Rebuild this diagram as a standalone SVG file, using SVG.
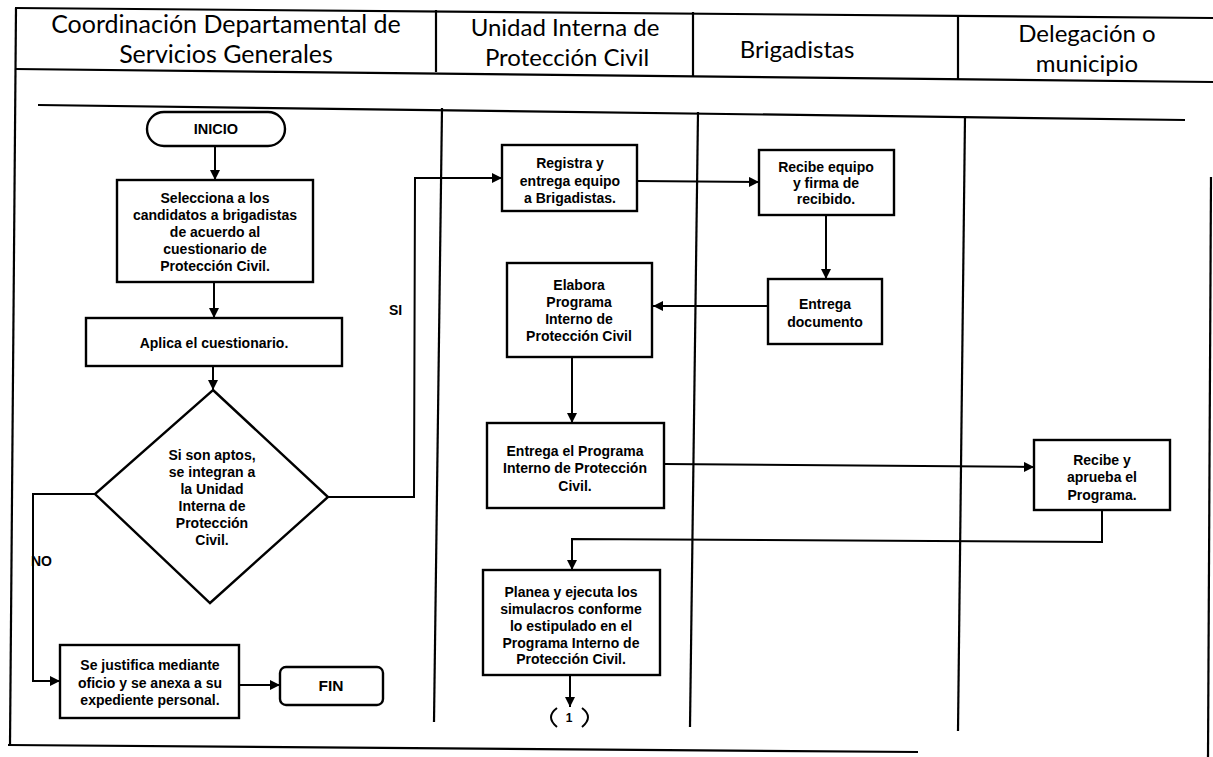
<svg xmlns="http://www.w3.org/2000/svg" width="1213" height="757" viewBox="0 0 1213 757">
<style>
.frame{fill:none;stroke:#000;stroke-width:2.2}
.box{fill:#fff;stroke:#000;stroke-width:2.4}
.conn{fill:none;stroke:#000;stroke-width:2}
.hdr{font-family:Lato,"Open Sans",sans-serif;font-size:24px;fill:#000;text-anchor:middle}
.t{font-family:"Liberation Sans",Arial,sans-serif;font-weight:bold;font-size:14px;fill:#000;text-anchor:middle}
.lbl{font-family:"Liberation Sans",Arial,sans-serif;font-weight:bold;font-size:14px;fill:#000}
</style>
<defs>
<marker id="ah" viewBox="0 0 10 10" refX="10" refY="5" markerWidth="10" markerHeight="10" markerUnits="userSpaceOnUse" orient="auto">
<path d="M0,0 L10,5 L0,10 z" fill="#000"/>
</marker>
</defs>
<rect width="1213" height="757" fill="#fff"/>
<g id="frame">
<line class="frame" x1="15" y1="8" x2="1213" y2="18"/>
<line class="frame" x1="15" y1="69" x2="1213" y2="82"/>
<line class="frame" x1="16" y1="8" x2="10" y2="745"/>
<line class="frame" x1="436" y1="10" x2="436" y2="72"/>
<line class="frame" x1="693" y1="12" x2="693" y2="77"/>
<line class="frame" x1="958" y1="15" x2="958" y2="80"/>
<line class="frame" x1="38" y1="105" x2="1185" y2="120"/>
<line class="frame" x1="442" y1="108" x2="434" y2="722"/>
<line class="frame" x1="698" y1="112" x2="690" y2="727"/>
<line class="frame" x1="965" y1="116" x2="958" y2="731"/>
<line class="frame" x1="1211" y1="177" x2="1208" y2="757"/>
<line class="frame" x1="8" y1="745" x2="918" y2="752"/>
</g>
<g id="headers">
<text class="hdr" x="226" y="33" style="font-size:25px">Coordinación Departamental de</text>
<text class="hdr" x="226" y="63" style="font-size:25px">Servicios Generales</text>
<text class="hdr" x="565" y="36">Unidad Interna de</text>
<text class="hdr" x="567" y="66">Protección Civil</text>
<text class="hdr" x="797" y="58">Brigadistas</text>
<text class="hdr" x="1087" y="42">Delegación o</text>
<text class="hdr" x="1087" y="72">municipio</text>
</g>
<g id="connectors">
<line class="conn" x1="215" y1="146" x2="215" y2="180" marker-end="url(#ah)"/>
<line class="conn" x1="214" y1="282" x2="214" y2="318" marker-end="url(#ah)"/>
<line class="conn" x1="213" y1="366" x2="213" y2="390" marker-end="url(#ah)"/>
<polyline class="conn" points="95,494 33,494 33,681 60,681" marker-end="url(#ah)"/>
<polyline class="conn" points="328,497 414,497 415,178 502,178" marker-end="url(#ah)"/>
<line class="conn" x1="239" y1="685" x2="280" y2="685" marker-end="url(#ah)"/>
<line class="conn" x1="637" y1="181" x2="759" y2="182" marker-end="url(#ah)"/>
<line class="conn" x1="826" y1="215" x2="826" y2="279" marker-end="url(#ah)"/>
<line class="conn" x1="768" y1="306" x2="653" y2="306" marker-end="url(#ah)"/>
<line class="conn" x1="572" y1="357" x2="572" y2="423" marker-end="url(#ah)"/>
<line class="conn" x1="664" y1="464" x2="1034" y2="467" marker-end="url(#ah)"/>
<polyline class="conn" points="1102,510 1102,542 572,539 572,570" marker-end="url(#ah)"/>
<line class="conn" x1="570" y1="675" x2="570" y2="707" marker-end="url(#ah)"/>
<text class="lbl" x="31" y="566">NO</text>
<text class="lbl" x="389" y="315">SI</text>
</g>
<g id="inicio">
<rect class="box" x="147" y="112" width="138" height="34" rx="17"/>
<text class="t" x="216" y="134" style="font-size:14.5px">INICIO</text>
</g>
<g id="selecciona">
<rect class="box" x="117" y="180" width="196" height="102"/>
<text class="t" x="215" y="203">Selecciona a los</text>
<text class="t" x="215" y="220">candidatos a brigadistas</text>
<text class="t" x="215" y="237">de acuerdo al</text>
<text class="t" x="215" y="254">cuestionario de</text>
<text class="t" x="215" y="271">Protección Civil.</text>
</g>
<g id="aplica">
<rect class="box" x="86" y="318" width="256" height="48"/>
<text class="t" x="214" y="348">Aplica el cuestionario.</text>
</g>
<g id="decision">
<polygon class="box" points="213,390 328,497 210,603 95,494"/>
<text class="t" x="212" y="460">Si son aptos,</text>
<text class="t" x="212" y="477">se integran a</text>
<text class="t" x="212" y="494">la Unidad</text>
<text class="t" x="212" y="511">Interna de</text>
<text class="t" x="212" y="528">Protección</text>
<text class="t" x="212" y="545">Civil.</text>
</g>
<g id="justifica">
<rect class="box" x="60" y="645" width="179" height="73"/>
<text class="t" x="150" y="670">Se justifica mediante</text>
<text class="t" x="150" y="688">oficio y se anexa a su</text>
<text class="t" x="150" y="705">expediente personal.</text>
</g>
<g id="fin">
<rect class="box" x="280" y="667" width="103" height="38" rx="6"/>
<text class="t" x="331" y="691" style="font-size:15.5px">FIN</text>
</g>
<g id="registra">
<rect class="box" x="502" y="145" width="135" height="66"/>
<text class="t" x="570" y="168">Registra y</text>
<text class="t" x="570" y="186">entrega equipo</text>
<text class="t" x="570" y="203">a Brigadistas.</text>
</g>
<g id="recibe-equipo">
<rect class="box" x="759" y="150" width="135" height="65"/>
<text class="t" x="826" y="172">Recibe equipo</text>
<text class="t" x="826" y="188">y firma de</text>
<text class="t" x="826" y="204">recibido.</text>
</g>
<g id="entrega-documento">
<rect class="box" x="768" y="279" width="114" height="65"/>
<text class="t" x="825" y="309">Entrega</text>
<text class="t" x="825" y="327">documento</text>
</g>
<g id="elabora">
<rect class="box" x="507" y="263" width="145" height="94"/>
<text class="t" x="579" y="290">Elabora</text>
<text class="t" x="579" y="307">Programa</text>
<text class="t" x="579" y="324">Interno de</text>
<text class="t" x="579" y="341">Protección Civil</text>
</g>
<g id="entrega-programa">
<rect class="box" x="487" y="423" width="177" height="85"/>
<text class="t" x="575" y="456">Entrega el Programa</text>
<text class="t" x="575" y="473">Interno de Protección</text>
<text class="t" x="575" y="491">Civil.</text>
</g>
<g id="recibe-aprueba">
<rect class="box" x="1034" y="440" width="136" height="70"/>
<text class="t" x="1102" y="465">Recibe y</text>
<text class="t" x="1102" y="482">aprueba el</text>
<text class="t" x="1102" y="500">Programa.</text>
</g>
<g id="planea">
<rect class="box" x="483" y="570" width="177" height="105"/>
<text class="t" x="571" y="597">Planea y ejecuta los</text>
<text class="t" x="571" y="614">simulacros conforme</text>
<text class="t" x="571" y="631">lo estipulado en el</text>
<text class="t" x="571" y="648">Programa Interno de</text>
<text class="t" x="571" y="664">Protección Civil.</text>
</g>
<g id="conector-1">
<path class="conn" d="M557,708 Q545,717 557,727"/>
<path class="conn" d="M582,708 Q594,717 582,727"/>
<text class="t" x="569" y="722" style="font-size:12px">1</text>
</g>
</svg>
